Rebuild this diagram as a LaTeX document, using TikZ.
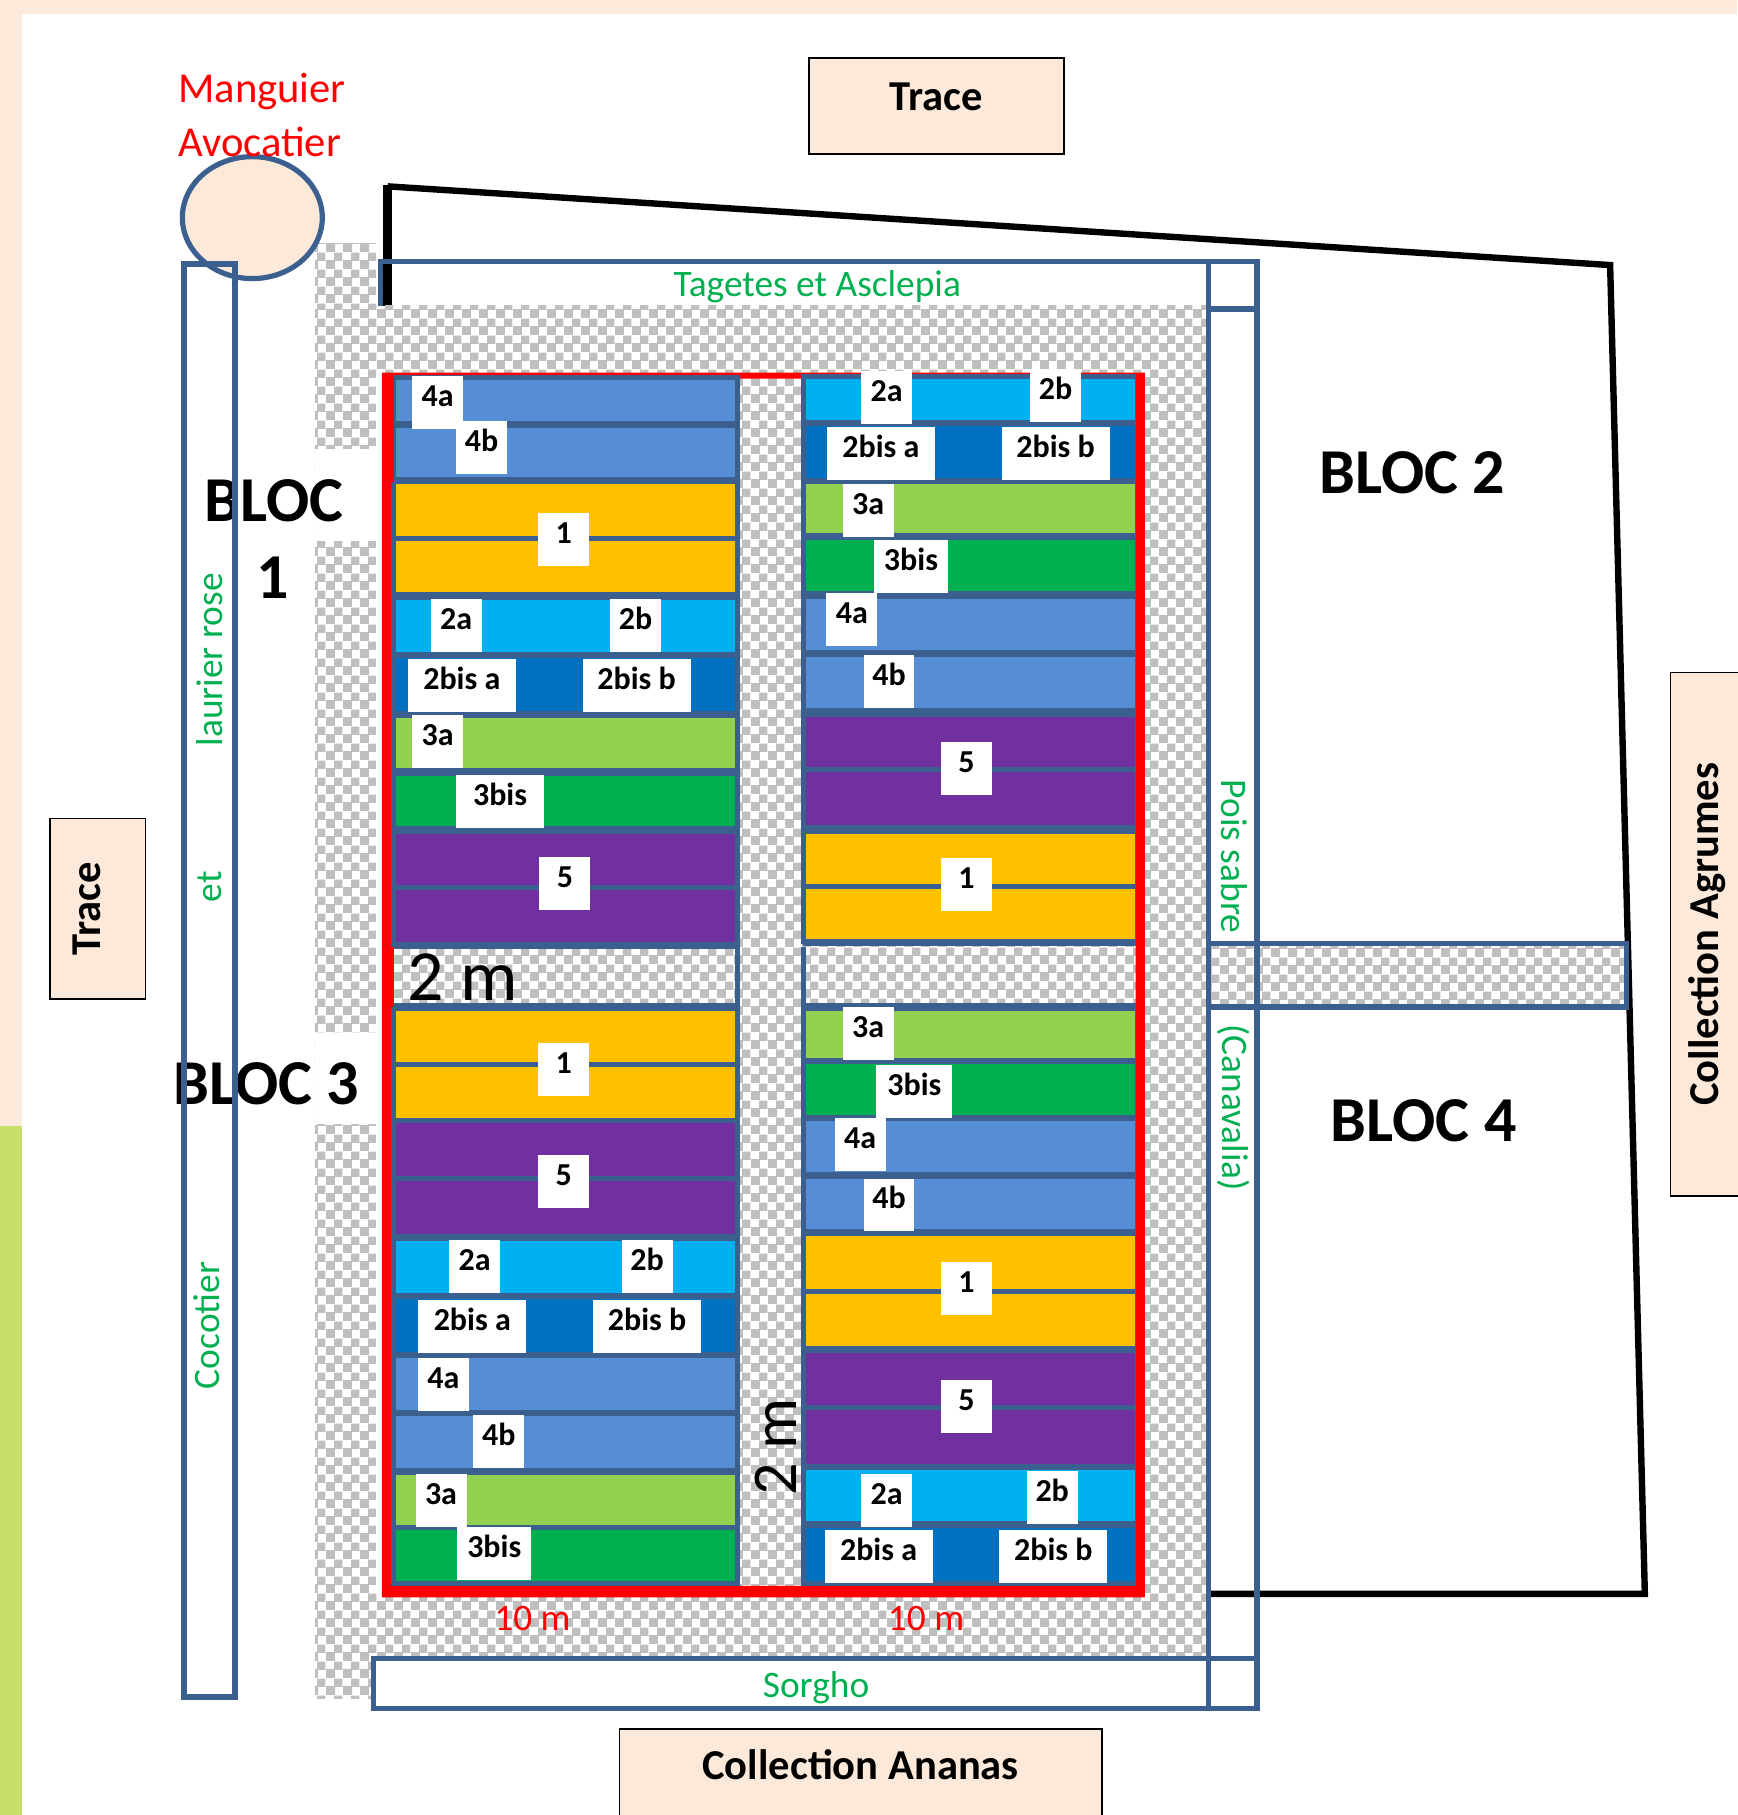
\documentclass[tikz,border=0pt]{standalone}
\usepackage{fontspec}
\setmainfont{Carlito}
\usetikzlibrary{patterns, shapes.geometric}
\definecolor{peach}{HTML}{FDE9D9}
\definecolor{lime}{HTML}{C6E06A}
\definecolor{edgeblue}{HTML}{3B5F8F}
\definecolor{plantgreen}{HTML}{00B050}
\definecolor{cA}{HTML}{558ED5}
\definecolor{cB}{HTML}{FFC000}
\definecolor{cC}{HTML}{00B0F0}
\definecolor{cD}{HTML}{0070C0}
\definecolor{cE}{HTML}{92D050}
\definecolor{cF}{HTML}{00B050}
\definecolor{cG}{HTML}{7030A0}
\pgfdeclarepatternformonly{chk}{\pgfpointorigin}{\pgfqpoint{8.6pt}{8.6pt}}{\pgfqpoint{8.6pt}{8.6pt}}{
  \pgfpathrectangle{\pgfpointorigin}{\pgfqpoint{4.7pt}{4.7pt}}
  \pgfpathrectangle{\pgfqpoint{4.3pt}{4.3pt}}{\pgfqpoint{4.3pt}{4.3pt}}
  \pgfusepath{fill}
}
\tikzset{
  zone/.style={draw=black, line width=0.7pt, fill=peach, inner sep=0pt, font=\fontsize{21.3}{25}\selectfont\bfseries},
  bloc/.style={font=\fontsize{32}{38}\selectfont\bfseries},
  plant/.style={text=plantgreen, font=\fontsize{18.7}{22}\selectfont},
  dist/.style={text=red, font=\fontsize{18.7}{22}\selectfont},
  tree/.style={text=red, font=\fontsize{21.3}{25}\selectfont},
  size/.style={font=\fontsize{36}{42}\selectfont},
  lab/.style={fill=white, inner sep=0pt, minimum height=26.5pt, text height=9pt, text depth=5pt, font=\fontsize{16}{19}\selectfont\bfseries},
  plotrow/.style={draw=edgeblue, line width=2.5pt},
  strip/.style={draw=edgeblue, line width=2.6pt},
  chkfill/.style={pattern=chk, pattern color=black!25},
}
\begin{document}
\begin{tikzpicture}[x=0.579pt, y=-0.579pt]
  \useasboundingbox (0,0) rectangle (1501,1568);
  % page edge
  \fill[peach] (0,0) rectangle (1501,12);
  \fill[peach] (0,12) rectangle (19,973);
  \fill[lime] (0,973) rectangle (19,1568);
  % outer field
  \draw[line width=3.2pt] (335,161) -- (1391,229) -- (1421,1377) -- (1045,1377);
  \draw[line width=4.6pt] (335,160) -- (335,264);
  \draw[strip] (329,264) -- (329,226) -- (1086,226);
  % paths around the plots
  \fill[chkfill] (272,210) rectangle (325,264);
  \fill[chkfill] (272,264) rectangle (1044,1432);
  \fill[chkfill] (272,1432) rectangle (323,1467);
  \fill[white] (272,388) rectangle (325,467);
  \fill[white] (272,892) rectangle (325,971);
  \fill[white] (325,322) rectangle (330,1376);
  \fill[red, even odd rule] (330,322) rectangle (989,1380) (340,327) rectangle (981,1370);
  % left column
  \foreach \ya/\yb/\rowcol in {326/366/cA, 368/414/cA, 416/465/cB, 465/514/cB, 516/565/cC, 566/616/cD,
    618/666/cE, 668/716/cF, 718/767/cG, 767/816/cG, 871/920/cB, 920/968/cB, 968/1018/cG, 1018/1068/cG,
    1070/1119/cC, 1120/1170/cD, 1171/1220/cA, 1221/1270/cA, 1272/1320/cE, 1320/1368/cF}
    \draw[plotrow, fill=\rowcol] (340,\ya) rectangle (637,\yb);
  % right column
  \foreach \ya/\yb/\rowcol in {325/365/cC, 366/415/cD, 416/463/cE, 464/513/cF, 515/564/cA, 565/614/cA,
    617/665/cG, 665/715/cG, 718/766/cB, 766/813/cB, 871/916/cE, 917/965/cF, 966/1015/cA, 1016/1064/cA,
    1066/1116/cB, 1116/1165/cB, 1167/1216/cG, 1216/1267/cG, 1268/1316/cC, 1318/1368/cD}
    \draw[plotrow, fill=\rowcol] (694,\ya) rectangle (983,\yb);
  \draw[plotrow] (340,818) -- (637,818) (340,869) -- (637,869);
  \draw[plotrow] (694,815) -- (983,815) (694,869) -- (983,869);
  \draw[plotrow] (637,1368) -- (637,818) (694,1368) -- (694,818);
  \fill[red] (981,322) rectangle (989,1380);
  \fill[red] (330,322) rectangle (340,416);
  \fill[red] (330,818) rectangle (340,870);
  % plot labels
  \foreach \lx/\ly/\lw/\ltxt [count=\i] in {378/348/25.5/4a, 416/387/25.5/4b, 487/466/25.5/1, 394/540/25.5/2a, 549/540/25.5/2b,
    399/592/54/2bis a, 550/592/54/2bis b, 378/641/25.5/3a, 432/692/44/3bis, 488/763/25.5/5, 487/924/25.5/1, 487/1021/25.5/5,
    410/1094/25.5/2a, 559/1094/25.5/2b, 408/1146/54/2bis a, 559/1146/54/2bis b, 383/1196/25.5/4a, 431/1245/25.5/4b,
    381/1296/25.5/3a, 427/1342/37/3bis, 766/343/25.5/2a, 912/342/25.5/2b, 761/392/54/2bis a, 912/392/54/2bis b,
    750/441/25.5/3a, 787/489/37/3bis, 736/535/25.5/4a, 768/589/25.5/4b, 835/664/25.5/5, 835/764/25.5/1, 750/893/25.5/3a,
    790/943/38/3bis, 743/989/25.5/4a, 768/1041/25.5/4b, 835/1113/25.5/1, 835/1215/25.5/5, 766/1296/25.5/2a, 909/1294/25.5/2b,
    759/1345/54/2bis a, 910/1345/54/2bis b}
    \node[lab, minimum width=\lw pt] (lab\i) at (\lx,\ly) {\ltxt};
  % blocs and sizes
  \node[bloc] (b1a) at (237,433) {BLOC};
  \node[bloc] (b1b) at (236,499) {1};
  \node[bloc] (b2) at (1220,408) {BLOC 2};
  \node[bloc] (b3) at (230,936) {BLOC 3};
  \node[bloc] (b4) at (1230,968) {BLOC 4};
  \node[size] (w1) at (400,844) {2 m};
  \node[size, font=\fontsize{32}{38}\selectfont, rotate=90] (w2) at (670,1250) {2 m};
  \node[dist] (d1) at (460,1398) {10 m};
  \node[dist] (d2) at (800,1398) {10 m};
  % tree and hedges
  \node[draw=edgeblue, line width=2.6pt, fill=peach, ellipse, inner sep=0pt, minimum width=70pt, minimum height=61pt] (mango) at (218,188) {};
  \draw[strip, chkfill] (1044,815) rectangle (1405,870);
  \draw[strip] (159,228) rectangle (203,1466);
  \draw[strip] (1044,226) rectangle (1086,267);
  \draw[strip] (1086,226) -- (1086,1476);
  \draw[strip] (1044,267) -- (1044,1476);
  \draw[strip] (323,1433) rectangle (1086,1476);
  \node[tree, anchor=west] (t1) at (148,79) {Manguier};
  \node[tree, anchor=west] (t2) at (148,123) {Avocatier};
  \node[plant] (p1) at (706,248) {Tagetes et Asclepia};
  \node[plant] (p2) at (705,1458) {Sorgho};
  \node[plant, rotate=90] (p3) at (181,570) {laurier rose};
  \node[plant, rotate=90] (p4) at (181,766) {et};
  \node[plant, rotate=90] (p5) at (179,1145) {Cocotier};
  \node[plant, rotate=-90] (p6) at (1066,740) {Pois sabre};
  \node[plant, rotate=-90] (p7) at (1066,957) {(Canavalia)};
  % neighbours
  \node[zone, minimum width=127.4pt, minimum height=48pt] (tr1) at (809,91.5) {\raisebox{9pt}{Trace}};
  \node[zone, minimum width=90.3pt, minimum height=48pt, rotate=90] (tr2) at (84.5,785) {\raisebox{11pt}{Trace}};
  \node[zone, minimum width=262pt, minimum height=36pt, rotate=90] (agr) at (1474,807) {\raisebox{-6pt}[0pt][0pt]{Collection Agrumes}};
  \node[zone, minimum width=241.4pt, minimum height=50pt] (ana) at (743.5,1537) {\raisebox{14.5pt}{Collection Ananas}};
\end{tikzpicture}
\end{document}
